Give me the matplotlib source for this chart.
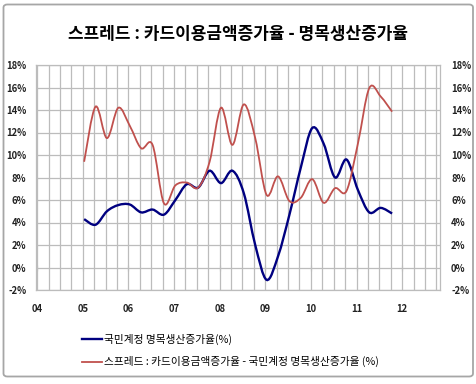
import matplotlib
matplotlib.use("Agg")
import matplotlib.pyplot as plt
import numpy as np
from matplotlib.path import Path
from matplotlib.patches import PathPatch, FancyBboxPatch
from matplotlib.lines import Line2D
from matplotlib.ticker import FuncFormatter

plt.rcParams['font.family'] = ['Noto Sans CJK KR', 'DejaVu Sans']

# quarterly data, 2005Q1 .. 2011Q4
quarters = [2005 + i * 0.25 for i in range(28)]
gdp_growth = [4.3, 3.8, 5.0, 5.55, 5.6, 4.9, 5.15, 4.7,
              6.0, 7.4, 7.1, 8.6, 7.5, 8.6, 6.6, 2.0,
              -1.1, 1.0, 4.7, 8.9, 12.4, 11.0, 8.0, 9.6,
              6.9, 4.9, 5.3, 4.8]
spread = [9.4, 14.3, 11.5, 14.2, 12.6, 10.6, 10.9, 5.7,
          7.3, 7.55, 7.1, 9.4, 14.2, 10.9, 14.5, 11.5,
          6.45, 8.1, 5.9, 6.2, 7.85, 5.75, 7.05, 6.8,
          11.0, 15.95, 15.2, 13.85]
year_ticks = list(range(2004, 2013))
year_labels = ['04', '05', '06', '07', '08', '09', '10', '11', '12']
y_ticks = list(range(-2, 19, 2))

title = '스프레드 : 카드이용금액증가율 - 명목생산증가율'
label_gdp = '국민계정 명목생산증가율(%)'
label_spread = '스프레드 : 카드이용금액증가율 - 국민계정 명목생산증가율 (%)'


def smooth_path(xs, ys):
    # Excel style smoothed line (cubic bezier through the points)
    pts = np.column_stack([xs, ys])
    n = len(pts)
    verts = [tuple(pts[0])]
    codes = [Path.MOVETO]
    for i in range(n - 1):
        p0 = pts[i - 1] if i > 0 else pts[i]
        p1 = pts[i]
        p2 = pts[i + 1]
        p3 = pts[i + 2] if i + 2 < n else pts[i + 1]
        c1 = p1 + (p2 - p0) / 6.0
        c2 = p2 - (p3 - p1) / 6.0
        verts += [tuple(c1), tuple(c2), tuple(p2)]
        codes += [Path.CURVE4] * 3
    return Path(verts, codes)


fig = plt.figure(figsize=(4.77, 3.84), dpi=100)
fig.patches.append(FancyBboxPatch((3.5 / 477, 7.5 / 384), 469.5 / 477, 372 / 384,
                                  boxstyle='round,pad=0,rounding_size=0.008',
                                  transform=fig.transFigure, fill=False,
                                  edgecolor='#a6a6a6', linewidth=1.3))

ax = fig.add_axes([36 / 477, 1 - 290 / 384, 404 / 477, 225 / 384])
ax.set_xlim(2003.975, 2012.83)
ax.set_ylim(-2, 18)

grid_c = '#bcbcbc'
for q in np.arange(2004, 2012.8, 0.25):
    ax.axvline(q, color=grid_c, linewidth=0.9, zorder=1)
for v in y_ticks:
    ax.axhline(v, color=grid_c, linewidth=0.9, zorder=1)

off = 0.03
ax.add_patch(PathPatch(smooth_path(np.array(quarters) + off, gdp_growth), fill=False,
                       edgecolor='#000080', linewidth=1.7, zorder=3))
ax.add_patch(PathPatch(smooth_path(np.array(quarters) + off, spread), fill=False,
                       edgecolor='#c0504d', linewidth=1.3, zorder=3))

for s in ax.spines.values():
    s.set_color(grid_c)
    s.set_linewidth(0.9)

pct = FuncFormatter(lambda v, p: f'{int(v)}%')
ax.set_yticks(y_ticks)
ax.yaxis.set_major_formatter(pct)
ax.set_xticks(year_ticks)
ax.set_xticklabels(year_labels)
ax.tick_params(axis='both', length=0, labelsize=6.8, colors='#222222')
ax.tick_params(axis='x', pad=10)
ax.tick_params(axis='y', pad=7)
for lab in ax.get_xticklabels() + ax.get_yticklabels():
    lab.set_fontweight('bold')

ax2 = ax.twinx()
ax2.set_ylim(-2, 18)
ax2.set_yticks(y_ticks)
ax2.yaxis.set_major_formatter(pct)
ax2.tick_params(axis='y', length=0, labelsize=6.8, colors='#222222', pad=8)
for lab in ax2.get_yticklabels():
    lab.set_fontweight('bold')
for s in ax2.spines.values():
    s.set_visible(False)

# year ticks crossing the 0% line
sec = ax.secondary_xaxis(0.1)
sec.set_xticks(year_ticks)
sec.tick_params(axis='x', direction='inout', length=5, color='#909090', labelbottom=False)
sec.spines['bottom'].set_visible(False)

fig.text(238 / 477, 1 - 34 / 384, title, ha='center', va='center',
         fontsize=12.2, fontweight='bold')

handles = [Line2D([], [], color='#000080', linewidth=1.7),
           Line2D([], [], color='#c0504d', linewidth=1.3)]
fig.legend(handles, [label_gdp, label_spread], loc='upper left',
           bbox_to_anchor=(82 / 477, 1 - 334 / 384), frameon=False,
           fontsize=7.7, handlelength=1.9, handletextpad=0.2,
           labelspacing=1.05, borderpad=0, borderaxespad=0)

fig.savefig('out.png', dpi=100)
